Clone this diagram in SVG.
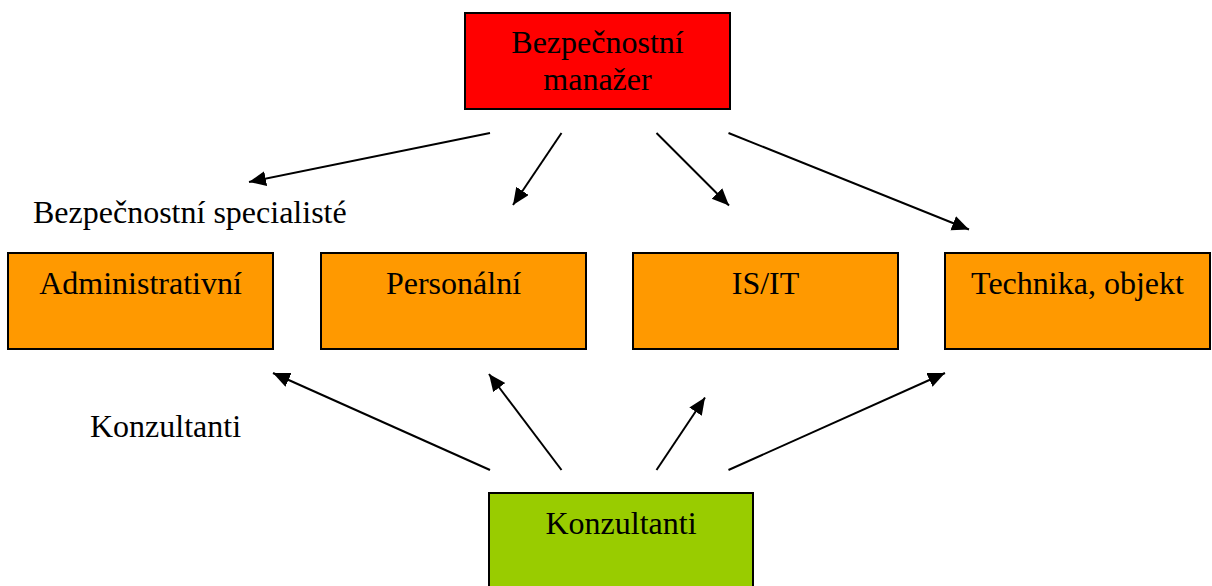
<svg xmlns="http://www.w3.org/2000/svg" width="1212" height="586" viewBox="0 0 1212 586">
<style>
.box{stroke:#000;stroke-width:2}
.red{fill:#FF0000}
.orange{fill:#FF9900}
.green{fill:#99CC00}
text{font-family:"Liberation Serif","Times New Roman",serif;font-size:32px;fill:#000}
.c{text-anchor:middle}
.arrow{stroke:#000;stroke-width:2;fill:none;marker-end:url(#ah)}
</style>
<defs>
<marker id="ah" markerUnits="userSpaceOnUse" markerWidth="18" markerHeight="16" refX="17" refY="7.5" orient="auto">
<path d="M0,0 L17,7.5 L0,15 Z" fill="#000"/>
</marker>
</defs>
<rect width="1212" height="586" fill="#fff"/>
<g id="manazer">
<rect class="box red" x="465" y="13" width="265" height="96"/>
<text class="c" x="597.5" y="53">Bezpečnostní</text>
<text class="c" x="597.5" y="90">manažer</text>
</g>
<g id="label-specialiste">
<text x="33" y="223">Bezpečnostní specialisté</text>
</g>
<g id="administrativni">
<rect class="box orange" x="8" y="253" width="265" height="96"/>
<text class="c" x="140.5" y="294">Administrativní</text>
</g>
<g id="personalni">
<rect class="box orange" x="321" y="253" width="265" height="96"/>
<text class="c" x="453.5" y="294">Personální</text>
</g>
<g id="isit">
<rect class="box orange" x="633" y="253" width="265" height="96"/>
<text class="c" x="765.5" y="294">IS/IT</text>
</g>
<g id="technika">
<rect class="box orange" x="945" y="253" width="265" height="96"/>
<text class="c" x="1077.5" y="294">Technika, objekt</text>
</g>
<g id="label-konzultanti">
<text x="90" y="437">Konzultanti</text>
</g>
<g id="konzultanti">
<rect class="box green" x="489" y="493" width="264" height="100"/>
<text class="c" x="621" y="534">Konzultanti</text>
</g>
<g id="connectors">
<line class="arrow" x1="490" y1="133" x2="249" y2="182"/>
<line class="arrow" x1="561.5" y1="133" x2="513" y2="205"/>
<line class="arrow" x1="656.5" y1="133" x2="729" y2="205.5"/>
<line class="arrow" x1="728.5" y1="133" x2="969" y2="229.5"/>
<line class="arrow" x1="490" y1="470" x2="273" y2="373"/>
<line class="arrow" x1="561.5" y1="470" x2="489" y2="374"/>
<line class="arrow" x1="656.5" y1="470" x2="705" y2="397.5"/>
<line class="arrow" x1="728.5" y1="470" x2="945" y2="373"/>
</g>
</svg>
